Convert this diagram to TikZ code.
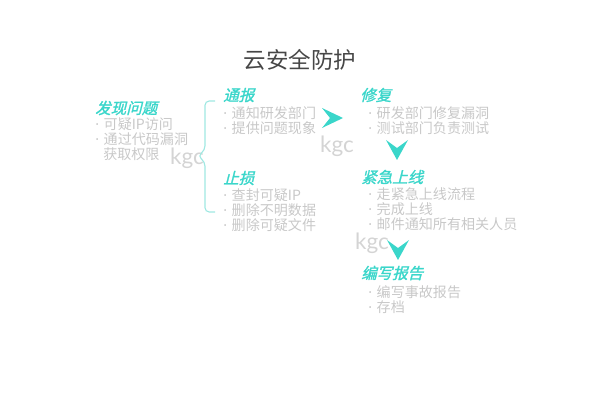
\documentclass[tikz,border=0pt]{standalone}
\usepackage{fontspec}
\usetikzlibrary{positioning, calc}
\newfontfamily\cjk{Noto Sans CJK SC}
\newfontfamily\cjkhead[FakeSlant=0.25,FakeBold=1.5]{Noto Sans CJK SC}
\newfontfamily\wmfont{Lato}
\newfontfamily\latin{Noto Sans}
\newcommand{\bul}{\makebox[6pt][l]{\latin·}}
\definecolor{headcol}{RGB}{58,214,202}
\definecolor{bracecol}{RGB}{160,232,226}
\definecolor{itemcol}{RGB}{200,200,200}
\definecolor{wmcol}{RGB}{212,212,212}
\definecolor{titlecol}{RGB}{70,70,70}

\begin{document}
\begin{tikzpicture}[
    x=0.025cm, y=-0.025cm,
    title/.style={font=\cjk\fontsize{16}{18}\selectfont, text=titlecol, inner sep=0},
    heading/.style={anchor=west, font=\cjkhead\fontsize{11}{12}\selectfont, text=headcol, inner sep=0},
    item/.style={anchor=west, font=\cjk\fontsize{10}{11}\selectfont, text=itemcol, inner sep=0},
    wmark/.style={font=\wmfont\fontsize{16}{18}\selectfont, text=wmcol, inner sep=0},
    chev/.style={fill=headcol, draw=none},
    brace/.style={draw=bracecol, line width=0.8pt, rounded corners=3pt}
]
    \useasboundingbox (0,0) rectangle (600,400);

    % 标题
    \node[title] (t) at (300,60) {云安全防护};

    % 发现问题
    \node[heading] (h1) at (95,108) {发现问题};
    \node[item] (h1a) at (95,124) {\bul 可疑IP访问};
    \node[item] (h1b) at (95,139) {\bul 通过代码漏洞};
    \node[item] (h1c) at (103,154) {获取权限};
    \node[wmark] (w1) at (187,158) {kgc};

    % 括号
    \draw[brace] (215,101) -- (205,101) -- (205,150) -- (198,156)
        -- (205,162) -- (205,212) -- (215,212);

    % 通报
    \node[heading] (h2) at (223,95) {通报};
    \node[item] (h2a) at (223,113) {\bul 通知研发部门};
    \node[item] (h2b) at (223,128) {\bul 提供问题现象};
    \coordinate (r1) at (332,118);
    \fill[chev] ($(r1)+(11,0)$) -- ($(r1)+(-10,-10)$) -- ($(r1)+(-2,0)$)
        -- ($(r1)+(-10,10)$) -- cycle;
    \node[wmark] (w2) at (337,146) {kgc};

    % 止损
    \node[heading] (h3) at (223,178) {止损};
    \node[item] (h3a) at (223,195) {\bul 查封可疑IP};
    \node[item] (h3b) at (223,210) {\bul 删除不明数据};
    \node[item] (h3c) at (223,225) {\bul 删除可疑文件};

    % 修复
    \node[heading] (h4) at (360,95) {修复};
    \node[item] (h4a) at (368,113) {\bul 研发部门修复漏洞};
    \node[item] (h4b) at (368,128) {\bul 测试部门负责测试};
    \coordinate (d1) at (397,150);
    \fill[chev] ($(d1)+(0,10)$) -- ($(d1)+(-11,-10)$) -- ($(d1)+(0,-2)$)
        -- ($(d1)+(11,-10)$) -- cycle;

    % 紧急上线
    \node[heading] (h5) at (361,177) {紧急上线};
    \node[item] (h5a) at (368,194) {\bul 走紧急上线流程};
    \node[item] (h5b) at (368,209) {\bul 完成上线};
    \node[item] (h5c) at (368,224) {\bul 邮件通知所有相关人员};
    \node[wmark] (w3) at (372,243) {kgc};
    \coordinate (d2) at (398,250);
    \fill[chev] ($(d2)+(0,10)$) -- ($(d2)+(-11,-10)$) -- ($(d2)+(0,-2)$)
        -- ($(d2)+(11,-10)$) -- cycle;

    % 编写报告
    \node[heading] (h6) at (361,273) {编写报告};
    \node[item] (h6a) at (368,292) {\bul 编写事故报告};
    \node[item] (h6b) at (368,307) {\bul 存档};
\end{tikzpicture}
\end{document}
